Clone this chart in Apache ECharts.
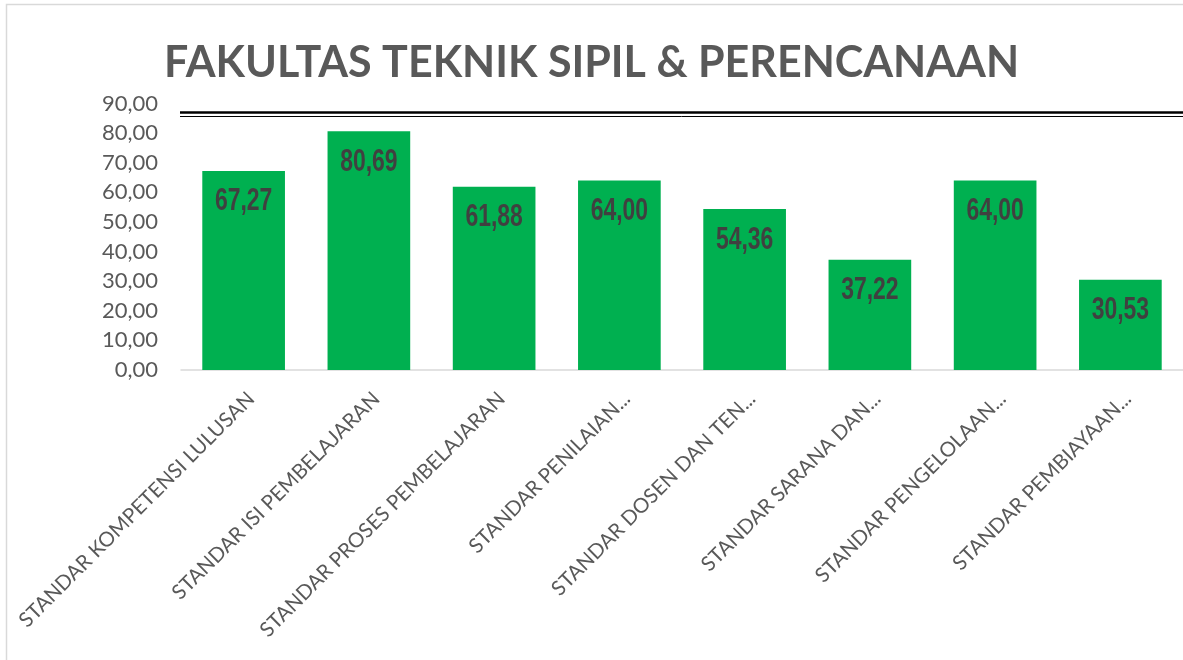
<!DOCTYPE html>
<html>
<head>
<meta charset="utf-8">
<script src="https://cdn.jsdelivr.net/npm/echarts@6/dist/echarts.min.js"></script>
<style>
  html, body { margin: 0; padding: 0; background: #fff; }
  #chart { width: 1183px; height: 660px; }
</style>
</head>
<body>
<div id="chart"></div>
<script>
// kategori standar (teks seperti tampil di sumbu)
const categories = [
  'STANDAR KOMPETENSI LULUSAN',
  'STANDAR ISI PEMBELAJARAN',
  'STANDAR PROSES PEMBELAJARAN',
  'STANDAR PENILAIAN...',
  'STANDAR DOSEN DAN TEN...',
  'STANDAR SARANA DAN...',
  'STANDAR PENGELOLAAN...',
  'STANDAR PEMBIAYAAN...'
];
// nilai tiap standar
const scores = [67.27, 80.69, 61.88, 64.00, 54.36, 37.22, 64.00, 30.53];

const chart = echarts.init(document.getElementById('chart'));

const fmt = v => v.toFixed(2).replace('.', ',');

chart.setOption({
  animation: false,
  title: {
    text: 'FAKULTAS TEKNIK SIPIL & PERENCANAAN',
    left: 'center',
    top: 37,
    textStyle: {
      color: '#595959',
      fontSize: 43,
      fontWeight: 'bold',
      fontFamily: 'Lato'
    }
  },
  grid: {
    left: 181,
    right: -2,
    top: 103.6,
    bottom: 290,
    containLabel: false
  },
  graphic: [
    { type: 'rect', shape: { x: 6.5, y: 4.5, width: 1200, height: 700 }, style: { fill: 'none', stroke: '#d9d9d9', lineWidth: 1.5 }, silent: true },
    { type: 'line', shape: { x1: 180, y1: 112.5, x2: 1183, y2: 112.5 }, style: { stroke: '#000', lineWidth: 2.5 } },
    { type: 'line', shape: { x1: 180, y1: 116.5, x2: 1183, y2: 116.5 }, style: { stroke: '#000', lineWidth: 1 } }
  ],
  xAxis: {
    type: 'category',
    data: categories,
    axisLine: { lineStyle: { color: '#d9d9d9', width: 1.5 } },
    axisTick: { show: false },
    axisLabel: {
      interval: 0,
      rotate: 45,
      margin: 18,
      align: 'right',
      verticalAlign: 'top',
      color: '#595959',
      fontSize: 20.5,
      fontFamily: 'Lato'
    }
  },
  yAxis: {
    type: 'value',
    min: 0,
    max: 90,
    interval: 10,
    splitLine: { show: false },
    axisLine: { show: false },
    axisTick: { show: false },
    axisLabel: {
      formatter: v => fmt(v),
      color: '#595959',
      fontSize: 22,
      fontFamily: 'Lato',
      margin: 23
    }
  },
  series: [
    {
      name: 'Nilai',
      type: 'bar',
      data: scores,
      barWidth: '66%',
      itemStyle: { color: '#00b050' }
    },
    {
      // label nilai, dibuat sempit seperti huruf condensed
      name: 'label',
      type: 'custom',
      data: scores.map((v, i) => [i, v]),
      z: 10,
      silent: true,
      renderItem: (params, api) => {
        const p = api.coord([api.value(0), api.value(1)]);
        return {
          type: 'text',
          x: p[0],
          y: p[1] + 31,
          scaleX: 0.74,
          style: {
            text: fmt(api.value(1)),
            align: 'center',
            verticalAlign: 'middle',
            fill: '#404040',
            font: 'bold 31px "Liberation Sans", sans-serif'
          }
        };
      }
    }
  ]
});
</script>
</body>
</html>
